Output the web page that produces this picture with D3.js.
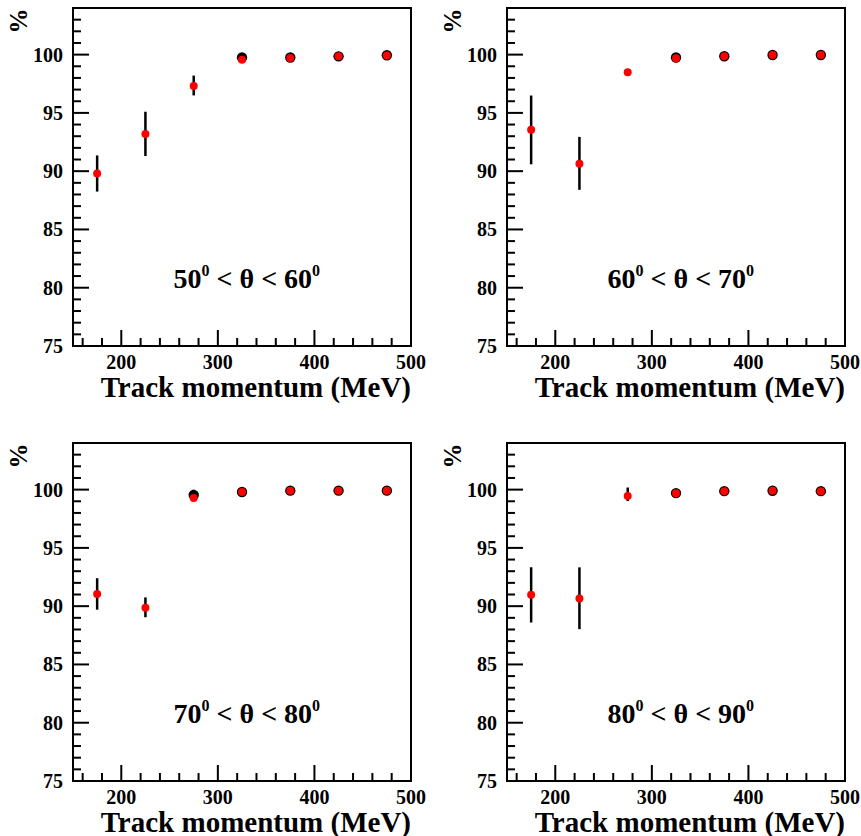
<!DOCTYPE html>
<html>
<head>
<meta charset="utf-8">
<script src="https://cdn.jsdelivr.net/npm/d3@7"></script>
<style>
  body { margin: 0; background: #fff; }
  svg text { font-family: "Times New Roman", Times, "Liberation Serif", "DejaVu Serif", "Noto Serif", serif; font-weight: bold; fill: #000; }
</style>
</head>
<body>
<svg id="chart" width="861" height="836"></svg>
<script>
// momentum bin centres (MeV)
var momentum = [175, 225, 275, 325, 375, 425, 475];

// black points (with errors), one array per theta bin
var black50 = [89.8, 93.2, 97.35, 99.75, 99.75, 99.85, 99.95];
var blackErr50 = [1.55, 1.9, 0.85, 0.1, 0.1, 0.05, 0.05];
var black60 = [93.54, 90.67, null, 99.75, 99.86, 99.97, 99.97];
var blackErr60 = [2.95, 2.27, 0, 0.1, 0.05, 0.05, 0.05];
var black70 = [91.05, 89.9, 99.54, 99.8, 99.91, 99.91, 99.91];
var blackErr70 = [1.35, 0.85, 0.45, 0.05, 0.05, 0.05, 0.05];
var black80 = [90.97, 90.68, 99.6, 99.7, 99.87, 99.9, 99.87];
var blackErr80 = [2.37, 2.65, 0.58, 0.05, 0.05, 0.05, 0.05];

// red points
var red50 = [89.8, 93.2, 97.3, 99.55, 99.72, 99.85, 99.93];
var red60 = [93.56, 90.64, 98.48, 99.68, 99.86, 99.97, 99.97];
var red70 = [91.04, 89.86, 99.29, 99.8, 99.91, 99.91, 99.91];
var red80 = [90.98, 90.66, 99.46, 99.68, 99.87, 99.9, 99.87];

var labels = [["50", "60"], ["60", "70"], ["70", "80"], ["80", "90"]];
var xTicks = [200, 300, 400, 500];
var yTicks = [75, 80, 85, 90, 95, 100];

var panels = [
  { black: black50, err: blackErr50, red: red50, lab: labels[0], ox: 0, oy: 0 },
  { black: black60, err: blackErr60, red: red60, lab: labels[1], ox: 434, oy: 0 },
  { black: black70, err: blackErr70, red: red70, lab: labels[2], ox: 0, oy: 435 },
  { black: black80, err: blackErr80, red: red80, lab: labels[3], ox: 434, oy: 435 }
];

var svg = d3.select('#chart');
var fl = 73, ft = 8, fw = 338, fh = 338;

panels.forEach(function(p) {
  var g = svg.append('g').attr('transform', 'translate(' + p.ox + ',' + p.oy + ')');

  var x = d3.scaleLinear().domain([150, 500]).range([fl, fl + fw]);
  var y = d3.scaleLinear().domain([75, 104]).range([ft + fh, ft]);

  // minor ticks (inside frame)
  var xMinor = d3.range(160, 500, 20).filter(function(v) { return v % 100 !== 0; });
  g.selectAll('.xminor').data(xMinor).enter().append('line')
    .attr('x1', function(d) { return x(d); }).attr('x2', function(d) { return x(d); })
    .attr('y1', ft + fh).attr('y2', ft + fh - 8)
    .attr('stroke', '#000').attr('stroke-width', 2);
  g.selectAll('.xmajor').data(xTicks).enter().append('line')
    .attr('x1', function(d) { return x(d); }).attr('x2', function(d) { return x(d); })
    .attr('y1', ft + fh).attr('y2', ft + fh - 16)
    .attr('stroke', '#000').attr('stroke-width', 2);

  var yMinor = d3.range(76, 104, 1).filter(function(v) { return v % 5 !== 0; });
  g.selectAll('.yminor').data(yMinor).enter().append('line')
    .attr('x1', fl).attr('x2', fl + 8)
    .attr('y1', function(d) { return y(d); }).attr('y2', function(d) { return y(d); })
    .attr('stroke', '#000').attr('stroke-width', 2);
  g.selectAll('.ymajor').data(yTicks).enter().append('line')
    .attr('x1', fl).attr('x2', fl + 16)
    .attr('y1', function(d) { return y(d); }).attr('y2', function(d) { return y(d); })
    .attr('stroke', '#000').attr('stroke-width', 2);

  // tick labels
  g.selectAll('.xl').data(xTicks).enter().append('text')
    .attr('x', function(d) { return x(d); }).attr('y', ft + fh + 23)
    .attr('text-anchor', 'middle').style('font-size', '20px')
    .text(function(d) { return d; });
  g.selectAll('.yl').data(yTicks).enter().append('text')
    .attr('x', fl - 10).attr('y', function(d) { return y(d) + 7; })
    .attr('text-anchor', 'end').style('font-size', '20px')
    .text(function(d) { return d; });

  // frame
  g.append('rect').attr('x', fl).attr('y', ft).attr('width', fw).attr('height', fh)
    .attr('fill', 'none').attr('stroke', '#000').attr('stroke-width', 2);

  // titles
  g.append('text').attr('x', fl + fw).attr('y', ft + fh + 51)
    .attr('text-anchor', 'end').style('font-size', '29px')
    .text('Track momentum (MeV)');
  g.append('text').attr('transform', 'translate(27,21) rotate(-90)')
    .attr('text-anchor', 'middle').style('font-size', '25px').text('%');

  // theta range label
  var t = g.append('text').attr('x', x(330)).attr('y', y(80))
    .attr('text-anchor', 'middle').style('font-size', '28px');
  t.append('tspan').text(p.lab[0]);
  t.append('tspan').attr('dy', -12).style('font-size', '16px').text('0');
  t.append('tspan').attr('dy', 12).text(' < \u03b8 < ' + p.lab[1]);
  t.append('tspan').attr('dy', -12).style('font-size', '16px').text('0');

  var pts = momentum.map(function(m, i) {
    return { m: m, b: p.black[i], e: p.err[i], r: p.red[i] };
  });
  var withBlack = pts.filter(function(d) { return d.b !== null; });

  // black error bars
  g.selectAll('.err').data(withBlack).enter().append('line')
    .attr('x1', function(d) { return x(d.m); }).attr('x2', function(d) { return x(d.m); })
    .attr('y1', function(d) { return y(d.b - d.e); }).attr('y2', function(d) { return y(d.b + d.e); })
    .attr('stroke', '#000').attr('stroke-width', 2.5);
  // black markers where the bar is shorter than the marker
  g.selectAll('.bm').data(withBlack.filter(function(d) { return d.e < 0.5; })).enter().append('circle')
    .attr('cx', function(d) { return x(d.m); }).attr('cy', function(d) { return y(d.b); })
    .attr('r', 5.2).attr('fill', '#000');
  // red markers
  g.selectAll('.rm').data(pts).enter().append('circle')
    .attr('cx', function(d) { return x(d.m); }).attr('cy', function(d) { return y(d.r); })
    .attr('r', 4).attr('fill', '#ff0000');
});
</script>
</body>
</html>
